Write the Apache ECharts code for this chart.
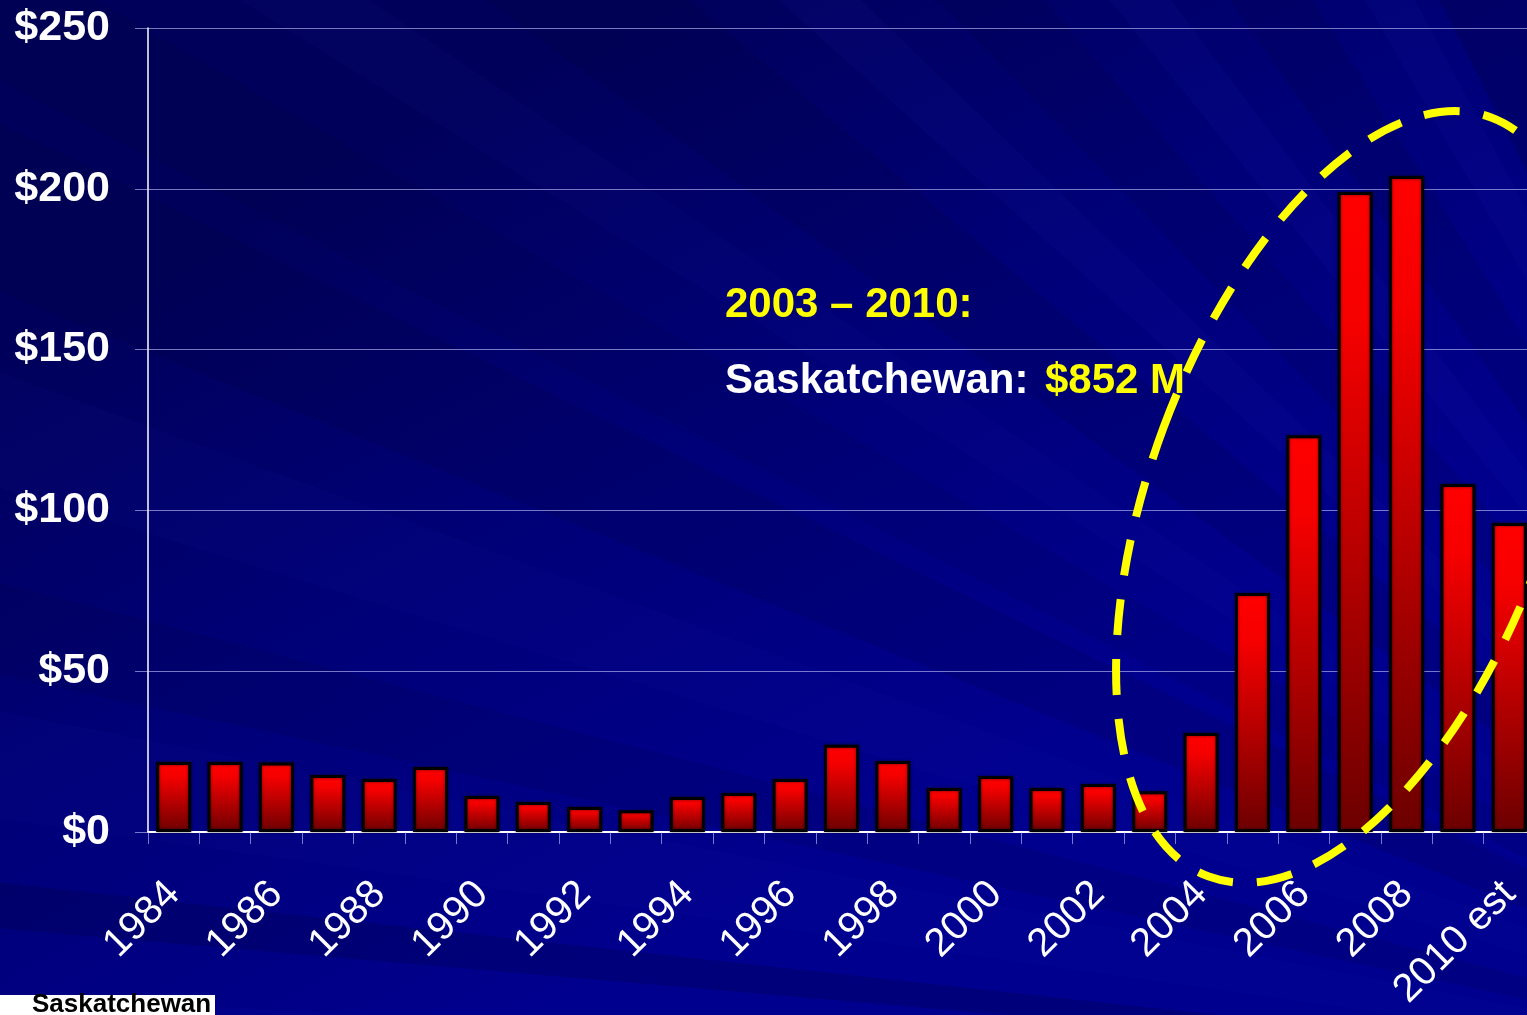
<!DOCTYPE html>
<html>
<head>
<meta charset="utf-8">
<script src="https://cdn.jsdelivr.net/npm/echarts@6/dist/echarts.min.js"></script>
<style>
  html, body { margin: 0; padding: 0; overflow: hidden; background: #000070; }
  #chart { width: 1527px; height: 1015px; }
</style>
</head>
<body>
<div id="chart"></div>
<script>
// data (millions of dollars)
const years = ['1984', '1985', '1986', '1987', '1988', '1989', '1990', '1991', '1992',
  '1993', '1994', '1995', '1996', '1997', '1998', '1999', '2000', '2001', '2002',
  '2003', '2004', '2005', '2006', '2007', '2008', '2009', '2010 est'];
const revenue = [21.8, 21.8, 21.6, 17.7, 16.5, 20.2, 11.2, 9.3, 7.8,
  6.8, 10.9, 12.1, 16.5, 27.1, 22.1, 13.7, 17.4, 13.7, 14.9,
  12.7, 30.8, 74.3, 123.4, 199, 204, 108.2, 96.1];
const yTicks = [0, 50, 100, 150, 200, 250];

const font = '"Liberation Sans", Arial, sans-serif';

// background rays fanning out from a point off the lower right corner
const focus = [2000, 1100];
const rays = [
  [0, 3, 'rgba(40,40,200,0.05)'],
  [4.9, 6.2, 'rgba(0,0,40,0.18)'],
  [8, 11, 'rgba(40,40,200,0.05)'],
  [12, 14.5, 'rgba(0,0,40,0.10)'],
  [17, 20, 'rgba(40,40,200,0.05)'],
  [22, 26, 'rgba(0,0,40,0.12)'],
  [27, 30, 'rgba(0,0,40,0.08)'],
  [32, 34, 'rgba(40,40,200,0.05)'],
  [36, 40, 'rgba(0,0,40,0.12)'],
  [42, 44, 'rgba(40,40,200,0.07)'],
  [46, 49, 'rgba(0,0,40,0.10)'],
  [51, 53, 'rgba(40,40,200,0.08)'],
  [55, 58, 'rgba(0,0,40,0.12)'],
  [60, 62, 'rgba(40,40,200,0.07)'],
  [63, 75, 'rgba(0,0,40,0.20)']
];

function rayPolygon(a0, a1) {
  const R = 3200, d = Math.PI / 180;
  return [
    focus,
    [focus[0] - R * Math.cos(a0 * d), focus[1] - R * Math.sin(a0 * d)],
    [focus[0] - R * Math.cos(a1 * d), focus[1] - R * Math.sin(a1 * d)]
  ];
}

const bg = [{
  type: 'rect', z: -20, silent: true,
  shape: { x: 0, y: 0, width: 1527, height: 1015 },
  style: {
    fill: {
      type: 'linear', x: 350, y: 150, x2: 750, y2: 900, global: true,
      colorStops: [
        { offset: 0, color: '#00005a' },
        { offset: 0.5, color: '#000078' },
        { offset: 1, color: '#00008e' }
      ]
    }
  }
}];
rays.forEach(r => {
  bg.push({
    type: 'polygon', z: -19, silent: true,
    shape: { points: rayPolygon(r[0], r[1]) },
    style: { fill: r[2] }
  });
});

const chart = echarts.init(document.getElementById('chart'));
chart.setOption({
  backgroundColor: 'transparent',
  animation: false,
  grid: { left: 148, top: 28, width: 1387, height: 804, outerBoundsMode: 'none' },
  xAxis: {
    type: 'category',
    data: years,
    axisLine: { lineStyle: { color: '#ffffff', width: 2 } },
    axisTick: { show: true, interval: 0, length: 12, lineStyle: { color: 'rgba(200,200,255,0.6)' } },
    axisLabel: {
      interval: 1, rotate: 45, margin: 56, color: '#ffffff',
      fontSize: 40, fontFamily: font
    }
  },
  yAxis: {
    type: 'value',
    min: yTicks[0], max: yTicks[yTicks.length - 1], interval: 50,
    axisLine: { show: true, lineStyle: { color: '#ffffff', width: 1.5 } },
    axisTick: { show: true, length: 13, lineStyle: { color: 'rgba(200,200,255,0.6)' } },
    splitLine: { lineStyle: { color: 'rgba(200,200,255,0.6)', width: 1 } },
    axisLabel: {
      margin: 38, color: '#ffffff', fontSize: 43, fontWeight: 'bold',
      fontFamily: font, formatter: v => '$' + v
    }
  },
  series: [{
    type: 'bar',
    data: revenue,
    barWidth: 35,
    itemStyle: {
      borderColor: '#000000', borderWidth: 3,
      shadowColor: 'rgba(0,0,0,0.5)', shadowBlur: 3,
      color: {
        type: 'linear', x: 0, y: 0, x2: 0, y2: 1,
        colorStops: [
          { offset: 0, color: '#ff0000' },
          { offset: 0.2, color: '#f60000' },
          { offset: 1, color: '#6c0000' }
        ]
      }
    }
  }],
  graphic: bg.concat([
    {
      type: 'ellipse', z: 50, silent: true,
      x: 1350, y: 497, rotation: -0.356,
      shape: { cx: 0, cy: 0, rx: 199, ry: 405 },
      style: { fill: null, stroke: '#ffff00', lineWidth: 8, lineDash: [36, 24] }
    },
    {
      type: 'text', z: 60, x: 725, y: 305,
      style: { text: '2003 – 2010:', fill: '#ffff00', font: 'bold 42px ' + font, verticalAlign: 'middle' }
    },
    {
      type: 'text', z: 60, x: 725, y: 381,
      style: { text: 'Saskatchewan:', fill: '#ffffff', font: 'bold 42px ' + font, verticalAlign: 'middle' }
    },
    {
      type: 'text', z: 60, x: 1045, y: 381,
      style: { text: '$852 M', fill: '#ffff00', font: 'bold 42px ' + font, verticalAlign: 'middle' }
    },
    {
      type: 'rect', z: 60, silent: true,
      shape: { x: 0, y: 995, width: 215, height: 20 },
      style: { fill: '#ffffff' }
    },
    {
      type: 'text', z: 61, x: 32, y: 992,
      style: { text: 'Saskatchewan', fill: '#000000', font: 'bold 26px ' + font, verticalAlign: 'top' }
    }
  ])
});
</script>
</body>
</html>
